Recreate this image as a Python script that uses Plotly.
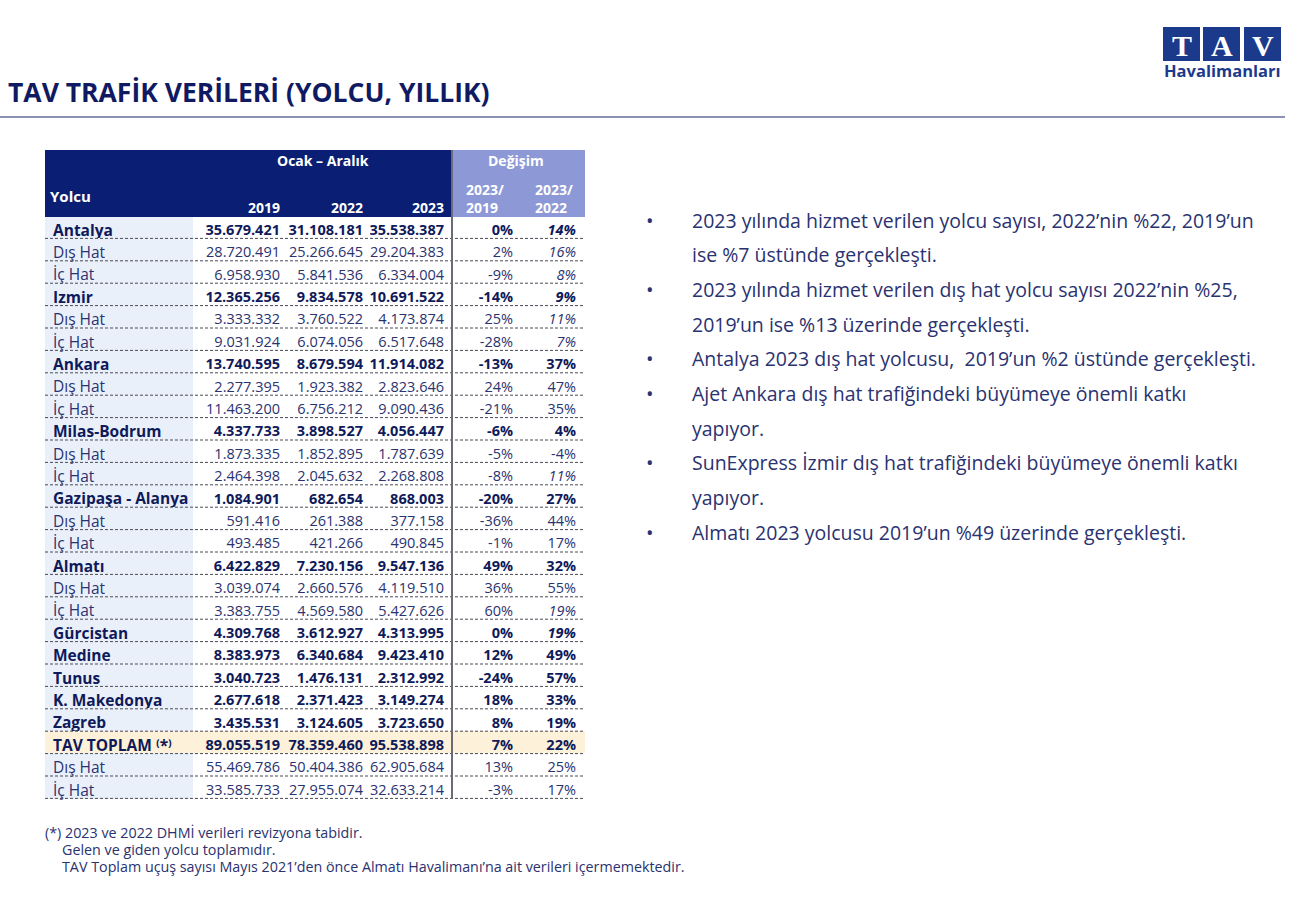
import plotly.graph_objects as go

W, H = 1306, 909

NAVY = "#0a1f73"
LAVENDER = "#8d99d6"
LABEL_FILL = "#eaf0fa"
TOTAL_FILL = "#fdf1d9"
TEXT_BOLD = "#0f1a5a"
TEXT_REG = "#2a3270"
CLEAR = "rgba(0,0,0,0)"
FONT = "Open Sans"
NBSP = "\u00a0"

# --- data -----------------------------------------------------------------
labels = ["Antalya", "Dış Hat", "İç Hat", "Izmir", "Dış Hat", "İç Hat",
          "Ankara", "Dış Hat", "İç Hat", "Milas-Bodrum", "Dış Hat", "İç Hat",
          "Gazipaşa - Alanya", "Dış Hat", "İç Hat", "Almatı", "Dış Hat", "İç Hat",
          "Gürcistan", "Medine", "Tunus", "K. Makedonya", "Zagreb",
          "TAV TOPLAM ⁽*⁾", "Dış Hat", "İç Hat"]
y2019 = [35679421, 28720491, 6958930, 12365256, 3333332, 9031924,
         13740595, 2277395, 11463200, 4337733, 1873335, 2464398,
         1084901, 591416, 493485, 6422829, 3039074, 3383755,
         4309768, 8383973, 3040723, 2677618, 3435531,
         89055519, 55469786, 33585733]
y2022 = [31108181, 25266645, 5841536, 9834578, 3760522, 6074056,
         8679594, 1923382, 6756212, 3898527, 1852895, 2045632,
         682654, 261388, 421266, 7230156, 2660576, 4569580,
         3612927, 6340684, 1476131, 2371423, 3124605,
         78359460, 50404386, 27955074]
y2023 = [35538387, 29204383, 6334004, 10691522, 4173874, 6517648,
         11914082, 2823646, 9090436, 4056447, 1787639, 2268808,
         868003, 377158, 490845, 9547136, 4119510, 5427626,
         4313995, 9423410, 2312992, 3149274, 3723650,
         95538898, 62905684, 32633214]
chg_2019 = [0, 2, -9, -14, 25, -28, -13, 24, -21, -6, -5, -8, -20, -36, -1,
            49, 36, 60, 0, 12, -24, 18, 8, 7, 13, -3]
chg_2022 = [14, 16, 8, 9, 11, 7, 37, 47, 35, 4, -4, 11, 27, 44, 17,
            32, 55, 19, 19, 49, 57, 33, 19, 22, 25, 17]
italic_rows = {0, 1, 2, 3, 4, 5, 11, 17, 18}
total_row = 23

header_label = "Yolcu"
header_years = ["2019", "2022", "2023"]
header_changes = [("2023/", "2019"), ("2023/", "2022")]
group_titles = ["Ocak – Aralık", "Değişim"]

bullets = [
    ["2023 yılında hizmet verilen yolcu sayısı, 2022’nin %22, 2019’un",
     "ise %7 üstünde gerçekleşti."],
    ["2023 yılında hizmet verilen dış hat yolcu sayısı 2022’nin %25,",
     "2019’un ise %13 üzerinde gerçekleşti."],
    ["Antalya 2023 dış hat yolcusu,  2019’un %2 üstünde gerçekleşti."],
    ["Ajet Ankara dış hat trafiğindeki büyümeye önemli katkı",
     "yapıyor."],
    ["SunExpress İzmir dış hat trafiğindeki büyümeye önemli katkı",
     "yapıyor."],
    ["Almatı 2023 yolcusu 2019’un %49 üzerinde gerçekleşti."],
]
footnotes = [
    "(*) 2023 ve 2022 DHMİ verileri revizyona tabidir.",
    "Gelen ve giden yolcu toplamıdır.",
    "TAV Toplam uçuş sayısı Mayıs 2021’den önce Almatı Havalimanı’na ait verileri içermemektedir.",
]

# --- layout constants (pixels) ---------------------------------------------
TX0 = 45
TTOP = 150
HEAD_H = 66
ROW_H = 22.4
COLW = [148, 95, 83, 81, 69, 63]
CELL_PAD = 8  # plotly's fixed table cell padding
edges = [TX0]
for w in COLW:
    edges.append(edges[-1] + w)
TX1 = edges[-1]
SPLIT_X = edges[4]


def px(x):
    return x / W


def py(y):
    return 1 - y / H


def fmt_num(v):
    return f"{v:,}".replace(",", ".")


def is_group(i):
    return not labels[i].endswith("Hat")


n = len(labels)
# no markup / plain spaces in body cells, so plotly keeps the declared row height
columns = [
    [lab.replace(" ", NBSP) for lab in labels],
    [fmt_num(v) for v in y2019],
    [fmt_num(v) for v in y2022],
    [fmt_num(v) for v in y2023],
    [f"{v}%" for v in chg_2019],
    [f"{v}%" for v in chg_2022],
]

row_fill = [TOTAL_FILL if i == total_row else "white" for i in range(n)]
label_fill = [TOTAL_FILL if i == total_row else LABEL_FILL for i in range(n)]
fills = [label_fill] + [row_fill] * 5


def layer_table(bold, italic, base):
    """One table per font style; plotly only takes weight/style per column."""
    vals = []
    for c, col in enumerate(columns):
        vals.append([v if (is_group(i) == bold and (c == 5 and i in italic_rows) == italic) else ""
                     for i, v in enumerate(col)])
    head_fill = [NAVY] * 4 + [LAVENDER] * 2 if base else CLEAR
    return go.Table(
        domain={"x": [px(TX0), px(TX1)], "y": [py(812), py(TTOP)]},
        columnwidth=COLW,
        header={
            "values": [""] * 6,
            "fill": {"color": head_fill},
            "line": {"color": head_fill, "width": 1},
            "height": HEAD_H,
        },
        cells={
            "values": vals,
            "align": ["left", "right", "right", "right", "right", "right"],
            "fill": {"color": fills if base else CLEAR},
            "line": {"color": fills if base else CLEAR, "width": 1},
            "font": {"family": FONT, "size": [15.5] + [14.5] * 5,
                     "color": TEXT_BOLD if bold else TEXT_REG,
                     "weight": "bold" if bold else "normal",
                     "style": "italic" if italic else "normal"},
            "height": ROW_H,
        },
    )


fig = go.Figure([
    layer_table(True, False, True),
    layer_table(False, False, False),
    layer_table(True, True, False),
    layer_table(False, True, False),
])

shapes = []
# dashed row separators
for k in range(1, n + 1):
    yy = TTOP + HEAD_H + k * ROW_H
    shapes.append(dict(type="line", xref="paper", yref="paper",
                       x0=px(TX0), x1=px(TX1), y0=py(yy), y1=py(yy),
                       line={"color": "#4a4a58", "width": 1, "dash": "3px,2px"}, layer="above"))
# vertical split line
shapes.append(dict(type="line", xref="paper", yref="paper",
                   x0=px(SPLIT_X), x1=px(SPLIT_X), y0=py(TTOP), y1=py(TTOP + HEAD_H + n * ROW_H),
                   line={"color": "#6b6b78", "width": 2}, layer="above"))
# title rule
shapes.append(dict(type="line", xref="paper", yref="paper",
                   x0=0, x1=px(1285), y0=py(117), y1=py(117),
                   line={"color": "#1a2560", "width": 1}))
# logo boxes
for bx in (1163, 1203, 1244):
    shapes.append(dict(type="rect", xref="paper", yref="paper",
                       x0=px(bx), x1=px(bx + 37), y0=py(61), y1=py(27),
                       fillcolor="#1b3a8c", line={"width": 0}))

annotations = []


def add_text(x, y, text, size, color, xanchor="left", family=FONT):
    annotations.append(dict(x=px(x), y=py(y), xref="paper", yref="paper",
                            text=text, showarrow=False, xanchor=xanchor,
                            yanchor="middle", align="center" if xanchor == "center" else xanchor,
                            font={"family": family, "size": size, "color": color}))


add_text(6, 92, "<b>TAV TRAFİK VERİLERİ (YOLCU, YILLIK)</b>", 26.5, "#0f1a63")
for bx, letter in zip((1163, 1203, 1244), "TAV"):
    add_text(bx + 18.5, 45, f"<b>{letter}</b>", 30, "white", xanchor="center",
             family="Liberation Serif")
add_text(1222, 70, "<b>Havalimanları</b>", 16.5, "#1b3a8c", xanchor="center")

# column header labels, placed over the table header band
add_text(edges[0] + 3, 196, f"<b>{header_label}</b>", 15, "white")
for c, year in enumerate(header_years, start=1):
    add_text(edges[c + 1] - CELL_PAD + 2, 208, f"<b>{year}</b>", 14, "white", xanchor="right")
for c, (top, bottom) in enumerate(header_changes, start=4):
    add_text(edges[c] + 12, 190, f"<b>{top}</b>", 14, "white")
    add_text(edges[c] + 12, 208, f"<b>{bottom}</b>", 14, "white")
add_text((edges[1] + SPLIT_X) / 2, 161, f"<b>{group_titles[0]}</b>", 14, "white", xanchor="center")
add_text((SPLIT_X + TX1) / 2 - 2, 161, f"<b>{group_titles[1]}</b>", 14, "white", xanchor="center")

line_y = 220
for block in bullets:
    add_text(650, line_y, "•", 20, "#2a3270", xanchor="center")
    for line in block:
        add_text(690, line_y, line, 19.5, "#2a3270")
        line_y += 34.7

add_text(43, 832, footnotes[0], 14.3, "#2a3270")
add_text(60, 849, footnotes[1], 14.3, "#2a3270")
add_text(60, 866, footnotes[2], 14.3, "#2a3270")

fig.update_layout(
    width=W, height=H,
    margin={"l": 0, "r": 0, "t": 0, "b": 0},
    paper_bgcolor="white",
    shapes=shapes,
    annotations=annotations,
)

fig.write_html("out.html", config={"displayModeBar": False},
               post_script="document.body.style.margin='0px';")
